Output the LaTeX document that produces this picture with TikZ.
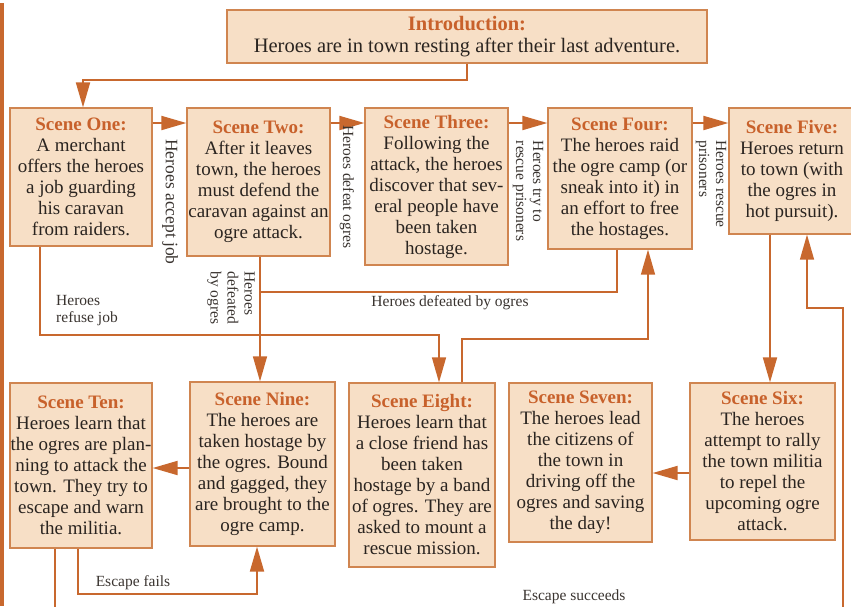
\documentclass[tikz,border=0pt]{standalone}
\usepackage{fontspec}
\setmainfont{Liberation Serif}
\usetikzlibrary{arrows.meta,calc}
\definecolor{boxfill}{HTML}{F7DFC6}
\definecolor{boxdraw}{HTML}{D08550}
\definecolor{ttlc}{HTML}{C8612B}
\definecolor{linec}{HTML}{C8682E}
\definecolor{txtc}{HTML}{2A2420}
\definecolor{lblc}{HTML}{3A3430}
\newcommand{\ttl}[1]{{\color{ttlc}\bfseries #1}}
\tikzset{
  scenebox/.style={draw=boxdraw, line width=1.3pt, fill=boxfill, align=center,
    text=txtc, inner sep=0.5pt, font=\fontsize{19}{21}\selectfont},
  conn/.style={draw=linec, line width=1.9pt},
  thinconn/.style={draw=linec, line width=1.4pt},
  arr/.style={conn, -{Triangle[length=25pt,width=14pt]}},
  thinarr/.style={thinconn, -{Triangle[length=25pt,width=14pt]}},
  lbl/.style={text=lblc, inner sep=0pt, font=\fontsize{15.5}{17}\selectfont},
}
\begin{document}
\begin{tikzpicture}[x=1pt,y=-1pt]
\useasboundingbox (0,0) rectangle (851,606);
\fill[white] (0,0) rectangle (851,606);
\fill[linec] (0,3) rectangle (4,606);

% boxes
\node[scenebox, minimum width=480pt, minimum height=53pt, font=\fontsize{20.5}{22}\selectfont] (intro) at (467,36.5)
  {\ttl{Introduction:}\\Heroes are in town resting after their last adventure.};
\node[scenebox, minimum width=142pt, minimum height=138pt] (s1) at (81,177)
  {\ttl{Scene One:}\\A merchant\\offers the heroes\\a job guarding\\his caravan\\from raiders.};
\node[scenebox, minimum width=143pt, minimum height=148pt] (s2) at (258.5,182)
  {\ttl{Scene Two:}\\After it leaves\\town, the heroes\\must defend the\\caravan against an\\ogre attack.};
\node[scenebox, minimum width=143pt, minimum height=157pt] (s3) at (436.5,186.5)
  {\ttl{Scene Three:}\\Following the\\attack, the heroes\\discover that sev-\\eral people have\\been taken\\hostage.};
\node[scenebox, minimum width=144pt, minimum height=141pt] (s4) at (620,178.5)
  {\ttl{Scene Four:}\\The heroes raid\\the ogre camp (or\\sneak into it) in\\an effort to free\\the hostages.};
\node[scenebox, minimum width=126pt, minimum height=126pt] (s5) at (792,171)
  {\ttl{Scene Five:}\\Heroes return\\to town (with\\the ogres in\\hot pursuit).};
\node[scenebox, minimum width=145pt, minimum height=157pt] (s6) at (762.5,461.5)
  {\ttl{Scene Six:}\\The heroes\\attempt to rally\\the town militia\\to repel the\\upcoming ogre\\attack.};
\node[scenebox, minimum width=143pt, minimum height=159pt] (s7) at (580.5,462.5)
  {\ttl{Scene Seven:}\\The heroes lead\\the citizens of\\the town in\\driving off the\\ogres and saving\\the day!};
\node[scenebox, minimum width=146pt, minimum height=184pt] (s8) at (422,475)
  {\ttl{Scene Eight:}\\Heroes learn that\\a close friend has\\been taken\\hostage by a band\\of ogres. They are\\asked to mount a\\rescue mission.};
\node[scenebox, minimum width=145pt, minimum height=164pt] (s9) at (262.5,464)
  {\ttl{Scene Nine:}\\The heroes are\\taken hostage by\\the ogres. Bound\\and gagged, they\\are brought to the\\ogre camp.};
\node[scenebox, minimum width=142pt, minimum height=165pt] (s10) at (81,465.5)
  {\ttl{Scene Ten:}\\Heroes learn that\\the ogres are plan-\\ning to attack the\\town. They try to\\escape and warn\\the militia.};

% helper coordinates
\coordinate (row1) at (0,123);
\coordinate (row9) at (0,468);
\coordinate (row6) at (0,473);
\coordinate (x40) at (40,0);
\coordinate (x55) at (55,0);
\coordinate (x78) at (78,0);
\coordinate (x83) at (83,0);
\coordinate (x257) at (257,0);
\coordinate (x260) at (260,0);
\coordinate (x439) at (439,0);
\coordinate (x462) at (462,0);
\coordinate (x617) at (617,0);
\coordinate (x648) at (648,0);
\coordinate (x770) at (770,0);
\coordinate (x807) at (807,0);
\coordinate (j1) at (83,80);
\coordinate (j2) at (260,292);
\coordinate (j3) at (40,335);
\coordinate (j4) at (439,335);
\coordinate (j5) at (462,339);
\coordinate (j6) at (648,339);
\coordinate (j7) at (55,620);
\coordinate (j8) at (843,620);
\coordinate (j9) at (843,308);
\coordinate (j10) at (807,308);
\coordinate (j11) at (78,594);
\coordinate (j12) at (257,594);

% connectors
\draw[arr] (intro.south) |- (j1) -- (s1.north -| x83);
\draw[arr] (s1.east |- row1) -- (s2.west |- row1);
\draw[arr] (s2.east |- row1) -- (s3.west |- row1);
\draw[arr] (s3.east |- row1) -- (s4.west |- row1);
\draw[arr] (s4.east |- row1) -- (s5.west |- row1);
\draw[thinarr] (s2.south -| x260) -- (s9.north -| x260);
\draw[thinconn] (s4.south -| x617) |- (j2);
\draw[thinarr] (s1.south -| x40) -- (j3) -- (j4) -- (s8.north -| x439);
\draw[thinarr] (s8.north -| x462) -- (j5) -- (j6) -- (s4.south -| x648);
\draw[arr] (s5.south -| x770) -- (s6.north -| x770);
\draw[thinarr] (s10.south -| x55) -- (j7) -- (j8) -- (j9) -- (j10) -- (s5.south -| x807);
\draw[arr] (s10.south -| x78) -- (j11) -- (j12) -- (s9.south -| x257);
\draw[arr] (s9.west |- row9) -- (s10.east |- row9);
\draw[arr] (s6.west |- row6) -- (s7.east |- row6);

% labels
\node[lbl, rotate=-90, font=\fontsize{17.5}{19}\selectfont] (l1) at (170,202) {Heroes accept job};
\node[lbl, rotate=-90] (l2) at (347,187) {Heroes defeat ogres};
\node[lbl, rotate=-90, align=left] (l3) at (528,191) {Heroes try to\\rescue prisoners};
\node[lbl, rotate=-90, align=left] (l4) at (711,184) {Heroes rescue\\prisoners};
\node[lbl, rotate=-90, align=left] (l5) at (231,298) {Heroes\\defeated\\by ogres};
\node[lbl, align=left] (l6) at (87,311) {Heroes\\refuse job};
\node[lbl] (l7) at (450,303) {Heroes defeated by ogres};
\node[lbl] (l8) at (133,583) {Escape fails};
\node[lbl] (l9) at (574,597) {Escape succeeds};
\end{tikzpicture}
\end{document}
